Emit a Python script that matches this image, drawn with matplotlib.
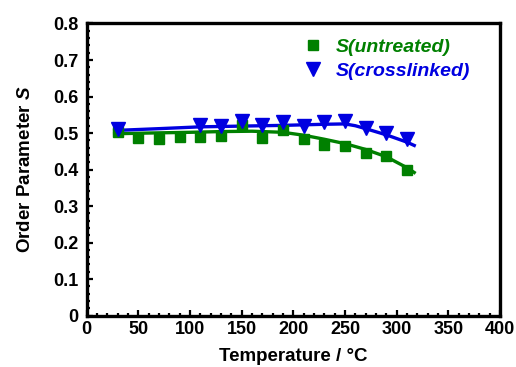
import matplotlib
matplotlib.use("Agg")
import matplotlib.pyplot as plt
from matplotlib.ticker import MultipleLocator

plt.rcParams['font.family'] = ['Liberation Sans', 'DejaVu Sans']
plt.rcParams['font.weight'] = 'bold'
plt.rcParams['mathtext.fontset'] = 'custom'
plt.rcParams['mathtext.it'] = 'Liberation Sans:italic:bold'
plt.rcParams['mathtext.rm'] = 'Liberation Sans:bold'

# Data
temp_untreated = [30, 50, 70, 90, 110, 130, 150, 170, 190, 210, 230, 250, 270, 290, 310]
s_untreated = [0.503, 0.486, 0.483, 0.489, 0.489, 0.492, 0.523, 0.486, 0.507, 0.485,
               0.468, 0.464, 0.445, 0.437, 0.400]
temp_cross = [30, 110, 130, 150, 170, 190, 210, 230, 250, 270, 290, 310]
s_cross = [0.512, 0.521, 0.519, 0.532, 0.523, 0.530, 0.519, 0.530, 0.532, 0.514, 0.501, 0.483]

# Fitted trend lines
fit_untreated_t = [27, 60, 100, 130, 160, 190, 210, 230, 250, 270, 290, 310, 317]
fit_untreated_s = [0.498, 0.500, 0.502, 0.504, 0.505, 0.502, 0.494, 0.483, 0.471, 0.455, 0.435, 0.405, 0.392]
fit_cross_t = [27, 70, 110, 150, 190, 230, 250, 260, 270, 290, 310, 317]
fit_cross_s = [0.507, 0.512, 0.517, 0.519, 0.521, 0.524, 0.525, 0.520, 0.512, 0.495, 0.475, 0.466]

x_ticks = [0, 50, 100, 150, 200, 250, 300, 350, 400]
y_ticks = [0, 0.1, 0.2, 0.3, 0.4, 0.5, 0.6, 0.7, 0.8]
y_tick_labels = ['0', '0.1', '0.2', '0.3', '0.4', '0.5', '0.6', '0.7', '0.8']

green = '#008000'
blue = '#0000e0'

fig = plt.figure(figsize=(5.16, 3.67), dpi=100)
ax = fig.add_axes([0.168, 0.140, 0.801, 0.796])

ax.plot(fit_untreated_t, fit_untreated_s, color=green, lw=2.4, zorder=2)
ax.plot(fit_cross_t, fit_cross_s, color=blue, lw=2.4, zorder=2)
ax.plot(temp_untreated, s_untreated, ls='none', marker='s', ms=7, color=green,
        label='S(untreated)', zorder=3)
ax.plot(temp_cross, s_cross, ls='none', marker='v', ms=9.5, color=blue,
        label='S(crosslinked)', zorder=4)

ax.set_xlim(0, 400)
ax.set_ylim(0, 0.8)
ax.set_xticks(x_ticks)
ax.set_yticks(y_ticks)
ax.set_yticklabels(y_tick_labels)
ax.xaxis.set_minor_locator(MultipleLocator(10))
ax.yaxis.set_minor_locator(MultipleLocator(0.02))

ax.tick_params(which='both', direction='in', top=False, right=False, width=1.6)
ax.tick_params(which='major', length=4.5, labelsize=13)
ax.tick_params(axis='y', which='major', pad=6)
ax.tick_params(axis='x', which='major', pad=4)
ax.tick_params(which='minor', length=2.5)
for lab in ax.get_xticklabels() + ax.get_yticklabels():
    lab.set_fontweight('bold')
for sp in ax.spines.values():
    sp.set_linewidth(2.4)

fig.text(0.568, 0.016, 'Temperature / °C', fontsize=13.5, fontweight='bold',
         ha='center', va='baseline')
ax.set_ylabel('Order Parameter $S$', fontsize=13.5, fontweight='bold')
ax.yaxis.set_label_coords(-0.128, 0.5)

leg = ax.legend(loc='upper left', bbox_to_anchor=(0.524, 0.948), frameon=False,
                borderpad=0, borderaxespad=0,
                prop={'size': 14, 'weight': 'bold', 'style': 'italic'},
                handletextpad=0.65, labelspacing=0.3, handlelength=1.0,
                labelcolor=[green, blue])

fig.savefig('out.png', dpi=100)
